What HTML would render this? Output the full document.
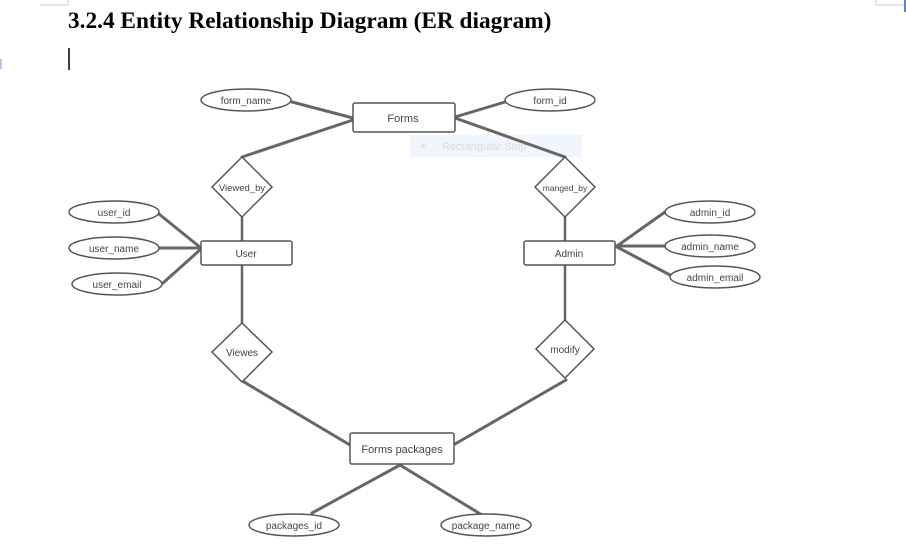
<!DOCTYPE html>
<html><head><meta charset="utf-8"><style>
html,body{margin:0;padding:0;background:#fff;width:906px;height:549px;overflow:hidden}
svg{display:block}
</style></head><body>
<svg width="906" height="549" viewBox="0 0 906 549" xmlns="http://www.w3.org/2000/svg" font-family="Liberation Sans, sans-serif">
<line x1="40" y1="5" x2="68" y2="5" stroke="#ccc"/><line x1="68" y1="0" x2="68" y2="5" stroke="#ccc"/>
<line x1="876" y1="5" x2="906" y2="5" stroke="#ccc"/><line x1="876" y1="0" x2="876" y2="5" stroke="#ccc"/>
<line x1="905" y1="0" x2="905" y2="12" stroke="#4a8ee0" stroke-width="2"/>
<rect x="0" y="59" width="2" height="10" fill="#a8c8ee"/>
<text x="68" y="28" font-family="Liberation Serif, serif" font-weight="bold" font-size="23.3" fill="#000">3.2.4 Entity Relationship Diagram (ER diagram)</text>
<line x1="69" y1="48" x2="69" y2="70" stroke="#000" stroke-width="1.5"/>
<rect x="410" y="135" width="172" height="22" fill="#f0f6fc"/>
<circle cx="423" cy="146" r="2" fill="#dde6f0"/>
<text x="442" y="150" font-size="11" fill="#d6dde6">Rectangular Snip</text>
<g stroke="#666" stroke-width="3" fill="none" stroke-linecap="round">
<line x1="292" y1="102" x2="353" y2="118"/>
<line x1="505" y1="102" x2="455" y2="117"/>
<line x1="353" y1="120" x2="242" y2="157"/>
<line x1="455" y1="118" x2="565" y2="157"/>
<line x1="242" y1="217" x2="242" y2="241" stroke-width="2.5"/>
<line x1="565" y1="217" x2="565" y2="241" stroke-width="2.5"/>
<line x1="159" y1="214" x2="201" y2="248"/>
<line x1="160" y1="248" x2="201" y2="248"/>
<line x1="163" y1="283" x2="201" y2="249"/>
<line x1="665" y1="212" x2="617" y2="246"/>
<line x1="665" y1="246" x2="617" y2="246"/>
<line x1="670" y1="275" x2="617" y2="247"/>
<line x1="242" y1="265" x2="242" y2="323" stroke-width="2.5"/>
<line x1="565" y1="265" x2="565" y2="320" stroke-width="2.5"/>
<line x1="244" y1="382" x2="350" y2="445"/>
<line x1="566" y1="380" x2="455" y2="444"/>
<line x1="400" y1="465" x2="312" y2="513"/>
<line x1="400" y1="465" x2="482" y2="515"/>
</g>
<g stroke="#555" stroke-width="1.5" fill="#fff">
<rect x="353" y="103" width="102" height="29" rx="2"/>
<rect x="201" y="241" width="91" height="24" rx="2"/>
<rect x="524" y="241" width="91" height="24" rx="2"/>
<rect x="350" y="433" width="104" height="31" rx="2"/>
<ellipse cx="246" cy="100" rx="45" ry="11"/>
<ellipse cx="550" cy="100" rx="45" ry="11"/>
<ellipse cx="114" cy="212" rx="45" ry="11"/>
<ellipse cx="114" cy="248" rx="45" ry="11"/>
<ellipse cx="117" cy="284" rx="45" ry="11"/>
<ellipse cx="710" cy="212" rx="45" ry="11"/>
<ellipse cx="710" cy="246" rx="45" ry="11"/>
<ellipse cx="715" cy="277" rx="45" ry="11"/>
<ellipse cx="294" cy="525" rx="45" ry="11"/>
<ellipse cx="486" cy="525" rx="45" ry="11"/>
<polygon points="242,157 272,187 242,217 212,187"/>
<polygon points="565,157 595,187 565,217 535,187"/>
<polygon points="242,323 272,352 242,382 212,352"/>
<polygon points="565,320 594,349 565,378 536,349"/>
</g>
<g font-size="10" fill="#444" text-anchor="middle">
<text x="403" y="122" font-size="11">Forms</text>
<text x="246" y="257">User</text>
<text x="569" y="257">Admin</text>
<text x="402" y="453" font-size="11">Forms packages</text>
<text x="246" y="104">form_name</text>
<text x="550" y="104">form_id</text>
<text x="114" y="216">user_id</text>
<text x="114" y="252">user_name</text>
<text x="117" y="288">user_email</text>
<text x="710" y="216">admin_id</text>
<text x="710" y="250">admin_name</text>
<text x="715" y="281">admin_email</text>
<text x="294" y="529">packages_id</text>
<text x="486" y="529">package_name</text>
<text x="242" y="191" font-size="9.5">Viewed_by</text>
<text x="565" y="191" font-size="8.5">manged_by</text>
<text x="242" y="356">Viewes</text>
<text x="565" y="353">modify</text>
</g>
</svg>
</body></html>
